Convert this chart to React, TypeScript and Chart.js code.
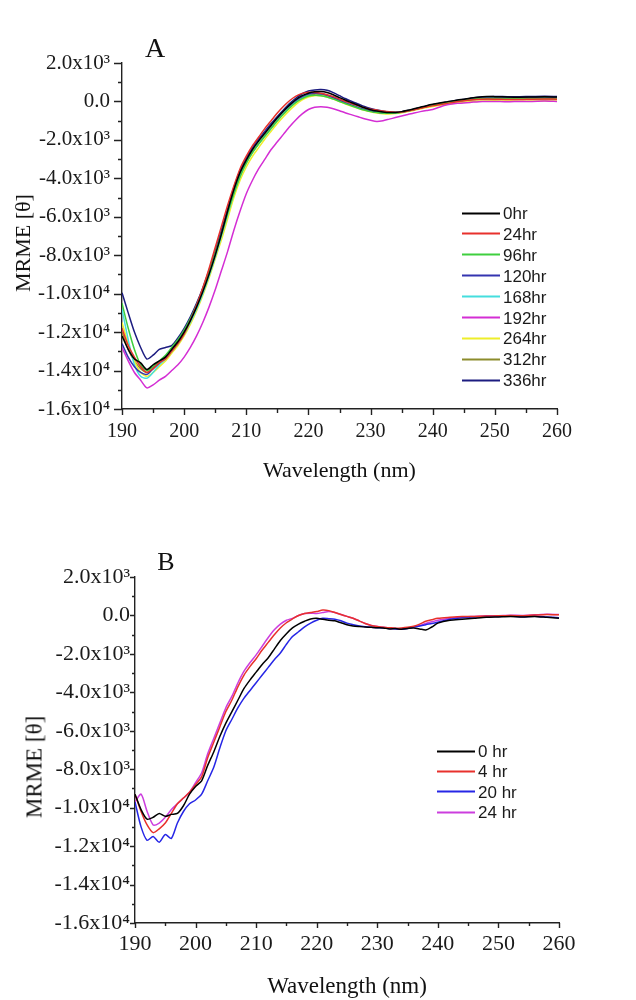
import React, { useEffect, useRef } from 'react';
import { Chart, registerables } from 'chart.js';

Chart.register(...registerables);

// ---------------- data ----------------
const WAVELENGTHS = [
  190, 191, 192, 193, 194, 195, 196, 197, 198, 199,
  200, 201, 202, 203, 204, 205, 206, 207, 208, 209,
  210, 211, 212, 213, 214, 215, 216, 217, 218, 219,
  220, 221, 222, 223, 224, 225, 226, 227, 228, 229,
  230, 231, 232, 233, 234, 235, 236, 237, 238, 239,
  240,
  242, 244, 246, 248, 250, 252, 254, 256, 258, 260,
];

const X_MAJOR_TICKS = [190, 200, 210, 220, 230, 240, 250, 260];
const X_TICK_LABELS = ['190', '200', '210', '220', '230', '240', '250', '260'];
const Y_MAJOR_TICKS = [2000, 0, -2000, -4000, -6000, -8000, -10000, -12000, -14000, -16000];
const Y_TICK_LABELS = [
  '2.0x10³', '0.0', '-2.0x10³', '-4.0x10³', '-6.0x10³', '-8.0x10³',
  '-1.0x10⁴', '-1.2x10⁴', '-1.4x10⁴', '-1.6x10⁴',
];

// Panel A
const A_LABELS = ['0hr', '24hr', '96hr', '120hr', '168hr', '192hr', '264hr', '312hr', '336hr'];

const A_0HR = [
  -12200, -12900, -13400, -13600, -13950, -13700, -13500, -13300, -12900, -12500,
  -12000, -11400, -10700, -9900, -9000, -8000, -6900, -5700, -4600, -3700,
  -3050, -2500, -2050, -1650, -1250, -850, -500, -180, 100, 300,
  430, 500, 520, 470, 350, 200, 60, -70, -200, -330,
  -430, -500, -550, -580, -570, -530, -460, -380, -300, -220,
  -150,
  -30, 70, 170, 250, 250, 230, 220, 230, 240, 230,
];
const A_24HR = [
  -11800, -12700, -13300, -13800, -14100, -13900, -13600, -13400, -13000, -12600,
  -12100, -11400, -10600, -9700, -8700, -7600, -6500, -5400, -4400, -3500,
  -2850, -2300, -1850, -1400, -1000, -600, -250, 50, 280, 420,
  480, 470, 430, 350, 250, 120, 0, -120, -230, -330,
  -400, -450, -500, -540, -560, -550, -500, -430, -360, -290,
  -230,
  -120, 0, 80, 120, 120, 100, 100, 120, 130, 120,
];
const A_96HR = [
  -10500, -11800, -12900, -13700, -14000, -13800, -13500, -13200, -12800, -12400,
  -11900, -11300, -10600, -9800, -8900, -7900, -6900, -5800, -4800, -3900,
  -3200, -2650, -2200, -1800, -1400, -1000, -650, -330, -50, 150,
  280, 320, 300, 230, 120, 0, -120, -240, -350, -450,
  -530, -580, -610, -620, -600, -560, -500, -420, -340, -260,
  -190,
  -80, 20, 100, 150, 160, 150, 140, 150, 160, 150,
];
const A_120HR = [
  -12600, -13300, -13800, -14100, -14200, -13900, -13600, -13300, -12900, -12400,
  -11900, -11300, -10600, -9800, -8900, -7900, -6800, -5700, -4600, -3700,
  -3000, -2450, -2000, -1600, -1200, -850, -500, -200, 60, 250,
  380, 420, 400, 320, 200, 60, -80, -200, -320, -420,
  -500, -560, -600, -610, -590, -550, -490, -420, -340, -260,
  -190,
  -70, 40, 130, 190, 200, 190, 180, 190, 200, 200,
];
const A_168HR = [
  -10800, -12400, -13700, -14300, -14400, -14100, -13700, -13400, -13000, -12600,
  -12100, -11500, -10800, -10000, -9100, -8100, -7000, -5900, -4800, -3900,
  -3200, -2650, -2200, -1800, -1400, -1000, -620, -290, 0, 220,
  360, 420, 400, 330, 220, 90, -40, -170, -290, -400,
  -480, -540, -580, -590, -580, -540, -480, -410, -330, -260,
  -200,
  -90, 20, 110, 170, 180, 170, 160, 170, 180, 170,
];
const A_192HR = [
  -12800, -13500, -14100, -14500, -14900, -14750, -14500, -14300, -14000, -13700,
  -13300, -12800, -12200, -11500, -10700, -9800, -8800, -7800, -6700, -5700,
  -4800, -4100, -3500, -3000, -2500, -2100, -1700, -1300, -950, -650,
  -420, -300, -270, -300, -380, -480, -600, -700, -800, -900,
  -980, -1040, -1000, -920, -840, -760, -680, -600, -530, -470,
  -420,
  -200, -100, -50, 0, 0, -20, 0, 0, 20, 0,
];
const A_264HR = [
  -11500, -12600, -13500, -14100, -14300, -14100, -13800, -13500, -13100, -12700,
  -12200, -11600, -10900, -10100, -9200, -8200, -7200, -6100, -5000, -4100,
  -3400, -2850, -2400, -1950, -1550, -1150, -780, -450, -150, 80,
  230, 300, 290, 230, 120, 0, -130, -250, -360, -460,
  -540, -600, -640, -650, -630, -590, -530, -460, -390, -320,
  -260,
  -160, -80, -20, 20, 30, 20, 10, 20, 30, 20,
];
const A_312HR = [
  -12000, -12900, -13500, -13900, -14100, -13900, -13600, -13300, -12900, -12500,
  -12000, -11400, -10700, -9900, -9000, -8000, -7000, -5900, -4800, -3900,
  -3200, -2650, -2200, -1780, -1380, -980, -620, -300, -20, 190,
  330, 380, 360, 290, 180, 50, -80, -200, -320, -420,
  -500, -560, -600, -610, -590, -550, -490, -420, -350, -280,
  -220,
  -110, -10, 70, 120, 130, 120, 110, 120, 130, 120,
];
const A_336HR = [
  -9950, -11000, -12000, -12800, -13400, -13200, -12900, -12800, -12700, -12300,
  -11800, -11200, -10500, -9700, -8800, -7800, -6700, -5600, -4500, -3600,
  -2950, -2400, -1950, -1550, -1150, -780, -430, -100, 180, 400,
  540, 600, 620, 580, 460, 300, 140, 0, -130, -260,
  -370, -450, -510, -550, -560, -530, -470, -400, -320, -240,
  -170,
  -50, 60, 160, 240, 260, 250, 250, 260, 270, 260,
];

// Panel B
const B_LABELS = ['0 hr', '4 hr', '20 hr', '24 hr'];

const B_0HR = [
  -9300, -10100, -10600, -10500, -10300, -10450, -10350, -10300, -9900, -9300,
  -8900, -8600, -7800, -7100, -6300, -5600, -5000, -4400, -3800, -3350,
  -2950, -2550, -2200, -1750, -1300, -950, -650, -450, -300, -180,
  -150, -200, -250, -280, -380, -480, -550, -580, -600, -620,
  -640, -650, -700, -680, -720, -680, -650, -700, -760, -600,
  -400,
  -250, -200, -150, -100, -80, -60, -80, -50, -100, -150,
];
const B_4HR = [
  -9300, -10200, -10900, -11300, -11100, -10800, -10300, -9800, -9500, -9200,
  -8800, -8400, -7400, -6600, -5800, -5000, -4400, -3700, -3100, -2650,
  -2250, -1800, -1400, -1000, -650, -380, -180, 0, 100, 150,
  200, 280, 250, 150, 50, -50, -150, -280, -420, -520,
  -580, -620, -640, -660, -650, -620, -560, -450, -300, -220,
  -150,
  -100, -60, -50, -30, -20, 0, -20, 20, 50, 30,
];
const B_20HR = [
  -9700, -11000, -11700, -11500, -11800, -11400, -11600, -10800, -10200, -9800,
  -9600, -9300, -8600, -7900, -6900, -6000, -5400, -4800, -4300, -3900,
  -3500, -3100, -2700, -2300, -1950, -1500, -1100, -850, -600, -400,
  -250, -150, -170, -200, -280, -400, -480, -550, -590, -620,
  -640, -650, -680, -700, -720, -680, -600, -550, -480, -420,
  -350,
  -200, -120, -80, -50, -60, -30, -70, -40, -80, -120,
];
const B_24HR = [
  -9700, -9300, -10200, -10900, -10800, -10500, -10100, -9800, -9500, -9200,
  -8700, -8200, -7200, -6400, -5600, -4800, -4200, -3500, -2900, -2450,
  -2050, -1600, -1150, -750, -450, -250, -150, 0, 100, 120,
  100, 150, 200, 150, 50, -50, -150, -280, -420, -520,
  -580, -620, -660, -680, -700, -650, -600, -520, -420, -330,
  -250,
  -150, -80, -50, -20, -10, 10, 0, 30, 60, 50,
];

// ---------------- styles ----------------
const A_COLORS = ['#000000', '#e8312c', '#3fcf3f', '#3434b0', '#45dede', '#d42ed4', '#eeee2a', '#8c8c2c', '#1c1c80'];
const B_COLORS = ['#000000', '#e8312c', '#2626e6', '#cc3ede'];

type PanelSpec = {
  top: number;
  letter: string;
  letterX: number;
  letterY: number;
  letterSize: number;
  area: { left: number; right: number; top: number; bottom: number };
  yFont: number;
  xFont: number;
  yPad: number;
  xPad: number;
  yMajor: number;
  yMinor: number;
  xMajor: number;
  xMinor: number;
  yTitleX: number;
  yTitleY: number;
  titleSize: number;
  xTitleY: number;
  labels: string[];
  colors: string[];
  series: number[][];
  legendX: number;
  legendY: number;
  legendStep: number;
};

const outTicksPlugin = {
  id: 'outTicks',
  afterDraw(chart: any) {
    const o = chart.options.plugins.outTicks;
    const ctx = chart.ctx;
    const xs = chart.scales.x;
    const ys = chart.scales.y;
    const area = chart.chartArea;
    ctx.save();
    ctx.strokeStyle = '#222';
    ctx.lineWidth = 1.4;
    ctx.beginPath();
    xs.ticks.forEach((t: any) => {
      const px = Math.round(xs.getPixelForValue(t.value)) + 0.5;
      const len = X_MAJOR_TICKS.indexOf(t.value) >= 0 ? o.xMajor : o.xMinor;
      ctx.moveTo(px, area.bottom);
      ctx.lineTo(px, area.bottom + len);
    });
    ys.ticks.forEach((t: any) => {
      const py = Math.round(ys.getPixelForValue(t.value)) + 0.5;
      const len = Y_MAJOR_TICKS.indexOf(t.value) >= 0 ? o.yMajor : o.yMinor;
      ctx.moveTo(area.left, py);
      ctx.lineTo(area.left - len, py);
    });
    ctx.stroke();
    ctx.restore();
  },
};

function Panel({ spec }: { spec: PanelSpec }) {
  const ref = useRef<HTMLCanvasElement | null>(null);

  useEffect(() => {
    if (!ref.current) return;
    const a = spec.area;
    const chart = new Chart(ref.current, {
      type: 'line',
      data: {
        datasets: spec.series.map((s, i) => ({
          label: spec.labels[i],
          data: WAVELENGTHS.map((w, j) => ({ x: w, y: s[j] })),
          borderColor: spec.colors[i],
          backgroundColor: spec.colors[i],
          borderWidth: 1.5,
          pointRadius: 0,
          tension: 0.25,
          fill: false,
        })),
      },
      options: {
        responsive: false,
        animation: false,
        events: [],
        layout: { padding: { left: 0, top: a.top, right: 636 - a.right, bottom: 0 } },
        plugins: {
          legend: { display: false },
          tooltip: { enabled: false },
          title: { display: false },
          outTicks: {
            xMajor: spec.xMajor,
            xMinor: spec.xMinor,
            yMajor: spec.yMajor,
            yMinor: spec.yMinor,
          },
        } as any,
        scales: {
          x: {
            type: 'linear',
            min: 190,
            max: 260,
            grid: { display: false, drawTicks: false },
            border: { display: true, color: '#222', width: 1.4 },
            ticks: {
              stepSize: 5,
              autoSkip: false,
              maxRotation: 0,
              minRotation: 0,
              padding: spec.xPad,
              color: '#1a1a1a',
              font: { family: '"Liberation Serif", "Times New Roman", serif', size: spec.xFont },
              callback: (v: any) => {
                const i = X_MAJOR_TICKS.indexOf(Number(v));
                return i >= 0 ? X_TICK_LABELS[i] : '';
              },
            },
            afterFit: (s: any) => {
              s.height = 500 - a.bottom;
            },
          },
          y: {
            type: 'linear',
            min: -16000,
            max: 2000,
            grid: { display: false, drawTicks: false },
            border: { display: true, color: '#222', width: 1.4 },
            ticks: {
              stepSize: 1000,
              autoSkip: false,
              padding: spec.yPad,
              color: '#1a1a1a',
              font: { family: '"Liberation Serif", "Times New Roman", serif', size: spec.yFont },
              callback: (v: any) => {
                const i = Y_MAJOR_TICKS.indexOf(Number(v));
                return i >= 0 ? Y_TICK_LABELS[i] : '';
              },
            },
            afterFit: (s: any) => {
              s.width = a.left;
            },
          },
        },
      },
      plugins: [outTicksPlugin],
    } as any);
    return () => chart.destroy();
  }, [spec]);

  const serif = '"Liberation Serif", "Times New Roman", serif';
  const sans = '"Liberation Sans", Arial, sans-serif';
  const cx = (spec.area.left + spec.area.right) / 2;

  return (
    <div style={{ position: 'absolute', left: 0, top: spec.top, width: 636, height: 500 }}>
      <canvas ref={ref} width={636} height={500} style={{ position: 'absolute', left: 0, top: 0 }} />
      <div
        style={{
          position: 'absolute',
          left: spec.letterX,
          top: spec.letterY,
          transform: 'translate(-50%, -50%)',
          fontFamily: serif,
          fontSize: spec.letterSize,
          lineHeight: 1,
          color: '#111',
        }}
      >
        {spec.letter}
      </div>
      <div
        style={{
          position: 'absolute',
          left: spec.yTitleX,
          top: spec.yTitleY,
          transform: 'translate(-50%, -50%) rotate(-90deg)',
          fontFamily: serif,
          fontSize: spec.titleSize,
          lineHeight: 1,
          whiteSpace: 'nowrap',
          color: '#111',
        }}
      >
        MRME [θ]
      </div>
      <div
        style={{
          position: 'absolute',
          left: cx,
          top: spec.xTitleY,
          transform: 'translate(-50%, -50%)',
          fontFamily: serif,
          fontSize: spec.titleSize,
          lineHeight: 1,
          whiteSpace: 'nowrap',
          color: '#111',
        }}
      >
        Wavelength (nm)
      </div>
      {spec.labels.map((lab, i) => (
        <div
          key={lab}
          style={{
            position: 'absolute',
            left: spec.legendX,
            top: spec.legendY + i * spec.legendStep,
            transform: 'translateY(-50%)',
            display: 'flex',
            alignItems: 'center',
            fontFamily: sans,
            fontSize: 17,
            lineHeight: 1,
            color: '#1a1a1a',
            whiteSpace: 'nowrap',
          }}
        >
          <span style={{ display: 'inline-block', width: 38, height: 2, background: spec.colors[i], marginRight: 3 }} />
          <span>{lab}</span>
        </div>
      ))}
    </div>
  );
}

const PANEL_A: PanelSpec = {
  top: 0,
  letter: 'A',
  letterX: 155,
  letterY: 48,
  letterSize: 28,
  area: { left: 122, right: 557, top: 63, bottom: 409 },
  yFont: 21,
  xFont: 20,
  yPad: 12,
  xPad: 11,
  yMajor: 8,
  yMinor: 4,
  xMajor: 6,
  xMinor: 4,
  yTitleX: 23,
  yTitleY: 243,
  titleSize: 22,
  xTitleY: 470,
  labels: A_LABELS,
  colors: A_COLORS,
  series: [A_0HR, A_24HR, A_96HR, A_120HR, A_168HR, A_192HR, A_264HR, A_312HR, A_336HR],
  legendX: 462,
  legendY: 213,
  legendStep: 20.9,
};

const PANEL_B: PanelSpec = {
  top: 500,
  letter: 'B',
  letterX: 166,
  letterY: 62,
  letterSize: 26,
  area: { left: 135, right: 559, top: 77, bottom: 423 },
  yFont: 22,
  xFont: 22,
  yPad: 5,
  xPad: 8,
  yMajor: 5,
  yMinor: 3,
  xMajor: 5,
  xMinor: 3,
  yTitleX: 34,
  yTitleY: 267,
  titleSize: 23,
  xTitleY: 485,
  labels: B_LABELS,
  colors: B_COLORS,
  series: [B_0HR, B_4HR, B_20HR, B_24HR],
  legendX: 437,
  legendY: 251,
  legendStep: 20.4,
};

export default function App() {
  return (
    <div style={{ position: 'absolute', left: 0, top: 0, width: 636, height: 1000, background: '#fff', overflow: 'hidden' }}>
      <Panel spec={PANEL_A} />
      <Panel spec={PANEL_B} />
    </div>
  );
}
